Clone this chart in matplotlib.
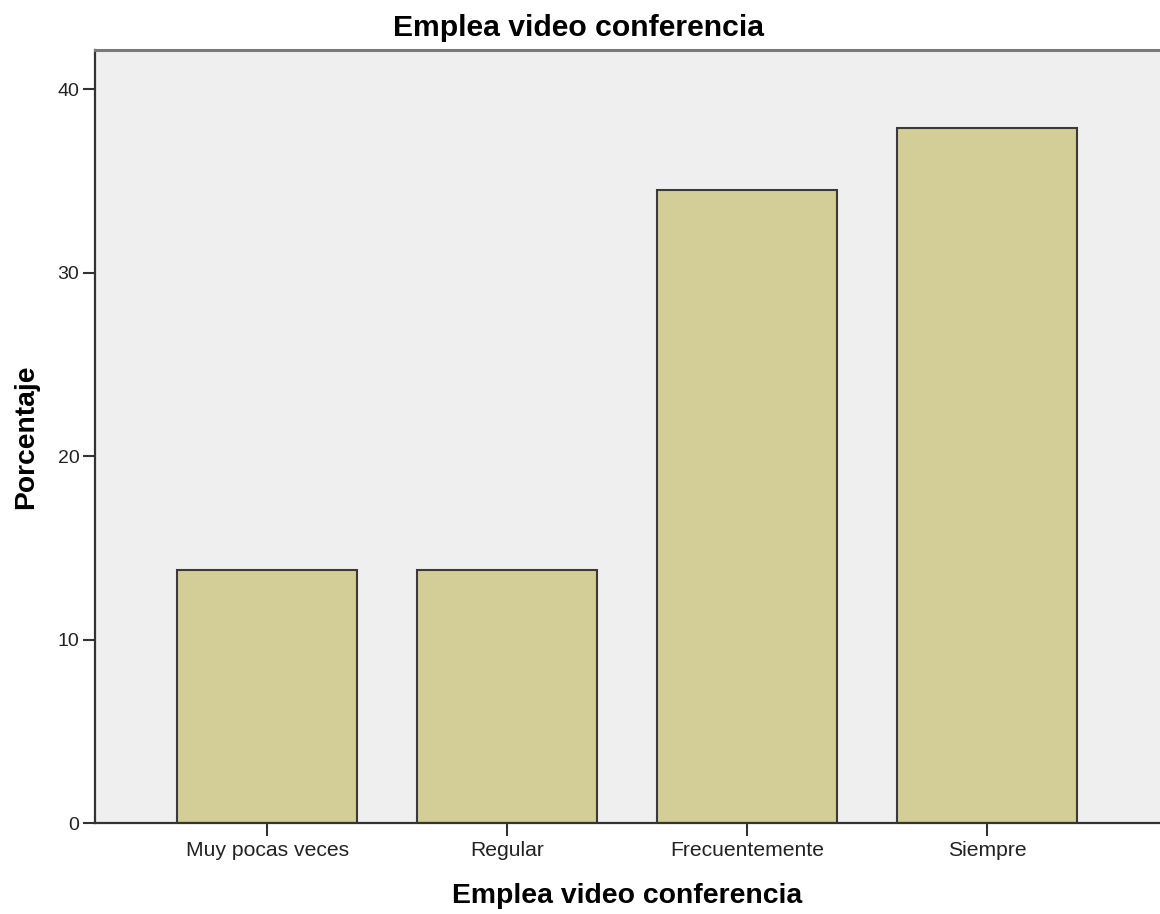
import matplotlib
matplotlib.use("Agg")
import matplotlib.pyplot as plt

categories = ["Muy pocas veces", "Regular", "Frecuentemente", "Siempre"]
porcentaje = [13.8, 13.8, 34.5, 37.9]
y_ticks = [0, 10, 20, 30, 40]

plt.rcParams["font.family"] = ["Liberation Sans", "DejaVu Sans"]

fig = plt.figure(figsize=(11.6, 9.14), dpi=100)
ax = fig.add_axes([0.0815, 0.0992, 0.9185, 0.8461])
ax.set_facecolor("#EFEFEF")

x = list(range(len(categories)))
ax.bar(x, porcentaje, width=0.75, color="#D3CE97",
       edgecolor="#3A3A3A", linewidth=1.5, zorder=2)

ax.set_xlim(-0.72, 3.72)
ax.set_ylim(0, 42.14)
ax.set_yticks(y_ticks)
ax.set_xticks(x)
ax.set_xticklabels(categories, fontsize=15.2, color="#222222")
ax.tick_params(axis="y", labelsize=14, length=9, width=1.5,
               color="#333333", labelcolor="#222222", pad=2)
ax.tick_params(axis="x", length=9.5, width=1.5, color="#333333", pad=3)

for side in ("left", "bottom"):
    ax.spines[side].set_color("#333333")
    ax.spines[side].set_linewidth(1.6)
ax.spines["top"].set_color("#7A7A7A")
ax.spines["top"].set_linewidth(2.2)
ax.spines["right"].set_visible(False)

ax.set_ylabel("Porcentaje", fontsize=20.3, fontweight="bold", labelpad=13)
ax.set_xlabel("Emplea video conferencia", fontsize=20.4, fontweight="bold",
              labelpad=17)
fig.text(0.4985, 0.969, "Emplea video conferencia", fontsize=21.7,
         fontweight="bold", ha="center", va="center")

fig.savefig("out.png", dpi=100, facecolor="white")
